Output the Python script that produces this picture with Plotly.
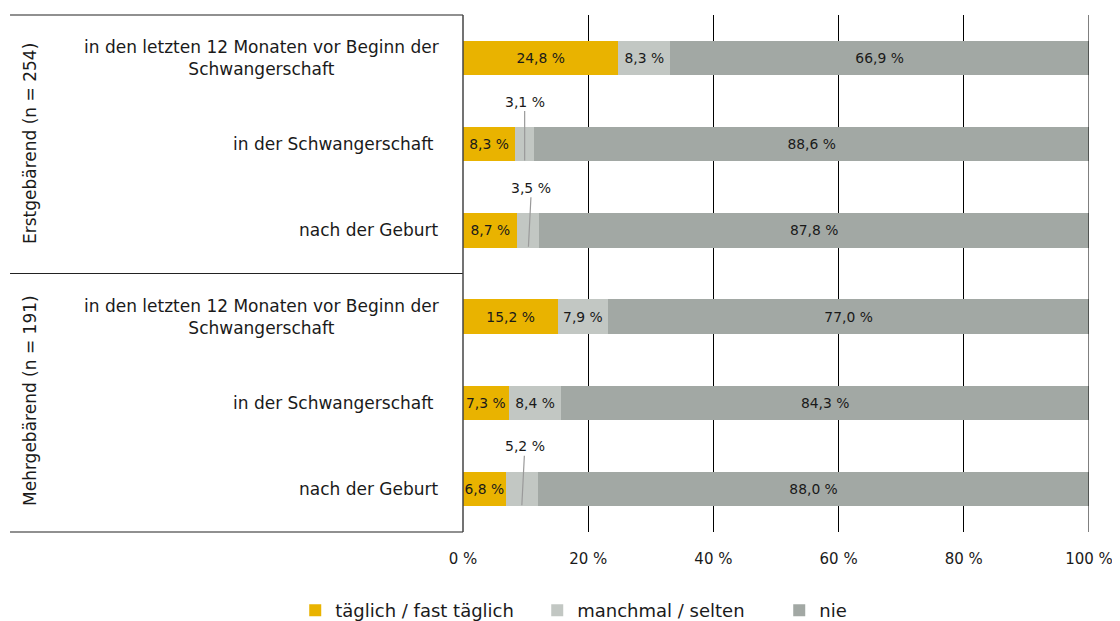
import plotly.graph_objects as go

# ---- data ----
groups = ["Erstgebärend (n = 254)", "Mehrgebärend (n = 191)"]
row_labels = [
    "in den letzten 12 Monaten vor Beginn der<br>Schwangerschaft",
    "in der Schwangerschaft\u00a0",
    "nach der Geburt",
    "in den letzten 12 Monaten vor Beginn der<br>Schwangerschaft",
    "in der Schwangerschaft\u00a0",
    "nach der Geburt",
]
series_names = ["täglich / fast täglich", "manchmal / selten", "nie"]
taeglich = [24.8, 8.3, 8.7, 15.2, 7.3, 6.8]
manchmal = [8.3, 3.1, 3.5, 7.9, 8.4, 5.2]
nie = [66.9, 88.6, 87.8, 77.0, 84.3, 88.0]
x_ticks = [0, 20, 40, 60, 80, 100]
x_tick_labels = ["0 %", "20 %", "40 %", "60 %", "80 %", "100 %"]

colors = ["#E9B300", "#C2C7C3", "#A2A8A4"]
rows = list(range(len(row_labels)))
CALLOUT_LIMIT = 6.0
FONT = "DejaVu Sans"
TXT = "#1a1a1a"


def fmt(v):
    return f"{v:.1f}".replace(".", ",") + " %"


fig = go.Figure()
series = [taeglich, manchmal, nie]
for name, vals, col in zip(series_names, series, colors):
    texts = [fmt(v) if v >= CALLOUT_LIMIT else "" for v in vals]
    fig.add_trace(go.Bar(
        y=rows, x=vals, name=name, orientation="h",
        marker=dict(color=col, line=dict(width=0)),
        text=texts, textposition="inside", insidetextanchor="middle",
        textfont=dict(family=FONT, size=14, color=TXT),
        width=0.4, hoverinfo="skip",
    ))

annotations = []
# callouts for small segments
for series_idx, vals in enumerate(series):
    for r, v in enumerate(vals):
        if v < CALLOUT_LIMIT:
            left = sum(series[k][r] for k in range(series_idx))
            xc = left + v / 2
            annotations.append(dict(
                x=xc, y=r + 0.19, xref="x", yref="y",
                text=fmt(v), showarrow=True, arrowhead=0, arrowwidth=1.2,
                arrowcolor="#9a9a9a", ax=3 if r != 1 else 0, ay=-59,
                standoff=0, startstandoff=0,
                font=dict(family=FONT, size=14, color=TXT),
            ))

# category labels
for r, lab in enumerate(row_labels):
    annotations.append(dict(
        x=-0.035, y=r, xref="paper", yref="y", text=lab, showarrow=False,
        xanchor="right", yanchor="middle", align="center",
        font=dict(family=FONT, size=17, color=TXT),
    ))

# group labels
for name, yp in zip(groups, [0.752, 0.255]):
    annotations.append(dict(
        x=-0.692, y=yp, xref="paper", yref="paper", text=name,
        showarrow=False, textangle=-90, xanchor="center", yanchor="middle",
        font=dict(family=FONT, size=17, color=TXT),
    ))

shapes = []
for yp in [1, 0.5, 0]:
    shapes.append(dict(type="line", xref="paper", yref="paper",
                       x0=-0.7236, x1=0, y0=yp, y1=yp,
                       line=dict(color="#222", width=1.2)))
shapes.append(dict(type="line", xref="paper", yref="paper",
                   x0=0, x1=0, y0=0, y1=1,
                   line=dict(color="#444", width=1.5)))
shapes.append(dict(type="line", xref="x", yref="paper",
                   x0=x_ticks[-1], x1=x_ticks[-1], y0=0, y1=1,
                   line=dict(color="#000", width=1), layer="above"))

# page body has an 8px default margin, so the figure is sized to fit the window
fig.update_layout(
    width=1112, height=613,
    margin=dict(l=455, r=31, t=7, b=89, autoexpand=False),
    barmode="stack",
    plot_bgcolor="white", paper_bgcolor="white",
    font=dict(family=FONT, color=TXT),
    uniformtext=dict(minsize=13, mode="show"),
    xaxis=dict(range=[0, 100], tickmode="array", tickvals=x_ticks,
               ticktext=x_tick_labels,
               showgrid=True, gridcolor="#000", gridwidth=1,
               zeroline=False, showline=False, ticks="outside",
               ticklen=13, tickcolor="rgba(0,0,0,0)",
               tickfont=dict(family=FONT, size=15, color=TXT)),
    yaxis=dict(range=[5.5, -0.5], showticklabels=False, showgrid=False,
               zeroline=False, showline=False, ticks=""),
    legend=dict(orientation="h", x=-0.268, xanchor="left", y=-0.116,
                yanchor="top", entrywidth=197, entrywidthmode="pixels",
                traceorder="normal",
                font=dict(family=FONT, size=18, color=TXT)),
    annotations=annotations, shapes=shapes, showlegend=True,
)

fig.write_html("out.html")
